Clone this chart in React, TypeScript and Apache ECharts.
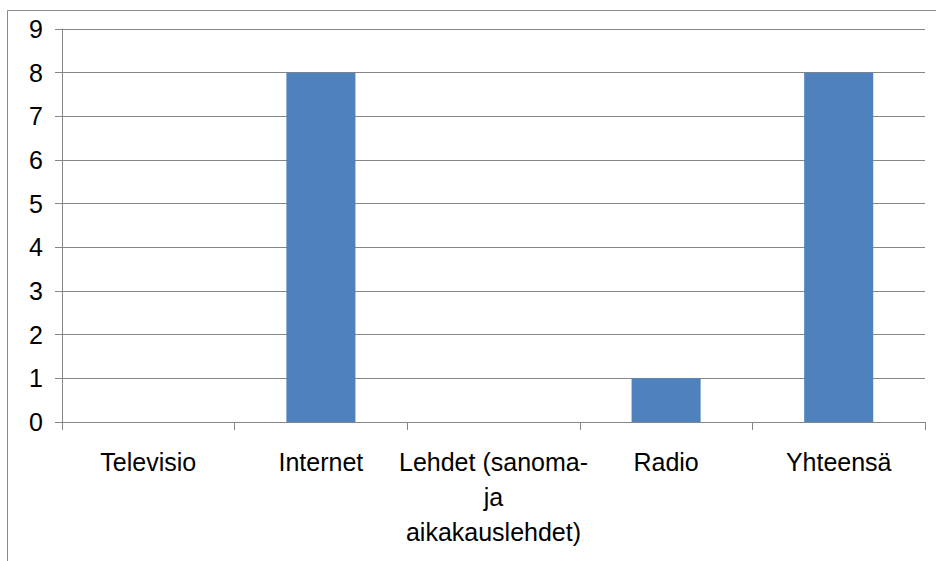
import React, { useEffect, useRef } from "react";
import * as echarts from "echarts";

const categories = ["Televisio", "Internet", "Lehdet (sanoma-\nja\naikakauslehdet)", "Radio", "Yhteensä"];
const values = [0, 8, 0, 1, 8];
const yTicks = [0, 1, 2, 3, 4, 5, 6, 7, 8, 9];

export default function App() {
  const ref = useRef<HTMLDivElement>(null);
  useEffect(() => {
    if (!ref.current) return;
    const chart = echarts.init(ref.current, undefined, { renderer: "svg" });
    const font = "'Liberation Sans', Arial, sans-serif";
    chart.setOption({
      animation: false,
      backgroundColor: "#ffffff",
      graphic: [
        {
          type: "rect",
          shape: { x: 7.5, y: 10.5, width: 940, height: 560 },
          style: { fill: "none", stroke: "#8c8c8c", lineWidth: 1 },
          silent: true,
          z: 0,
        },
      ],
      grid: { left: 62, right: 11, top: 29, bottom: 139 },
      xAxis: {
        type: "category",
        data: categories,
        axisLine: { show: true, lineStyle: { color: "#868686", width: 1 } },
        axisTick: { show: true, length: 8, lineStyle: { color: "#868686" }, alignWithLabel: false },
        axisLabel: {
          interval: 0,
          color: "#000000",
          fontFamily: font,
          fontSize: 25,
          margin: 22,
          lineHeight: 35,
          align: "center",
        },
      },
      yAxis: {
        type: "value",
        min: 0,
        max: 9,
        interval: 1,
        axisLine: { show: true, lineStyle: { color: "#868686", width: 1 } },
        axisTick: { show: true, length: 7, lineStyle: { color: "#868686" } },
        axisLabel: {
          color: "#000000",
          fontFamily: font,
          fontSize: 25,
          margin: 19,
          formatter: (v: number) => (yTicks.includes(v) ? String(v) : ""),
        },
        splitLine: { show: true, lineStyle: { color: "#868686", width: 1 } },
      },
      series: [
        {
          type: "bar",
          data: values,
          barCategoryGap: "60%",
          itemStyle: { color: "#4F81BD" },
        },
      ],
    });
    return () => chart.dispose();
  }, []);
  return (
    <div
      ref={ref}
      style={{ position: "fixed", left: 0, top: 0, width: 936, height: 561 }}
    />
  );
}
